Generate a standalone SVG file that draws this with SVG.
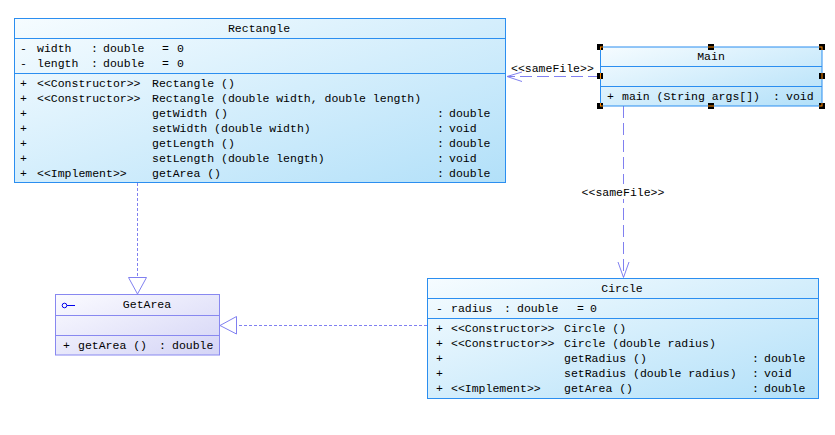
<svg xmlns="http://www.w3.org/2000/svg" width="835" height="435" viewBox="0 0 835 435">
<defs>
<linearGradient id="blueFill" x1="0" y1="0" x2="1" y2="1">
<stop offset="0" stop-color="#f6fcff"/>
<stop offset="1" stop-color="#b2e0f9"/>
</linearGradient>
<linearGradient id="lavFill" x1="0" y1="0" x2="1" y2="1">
<stop offset="0" stop-color="#fbfbff"/>
<stop offset="1" stop-color="#d4d4f6"/>
</linearGradient>
<clipPath id="handleClip">
<rect x="597" y="44" width="6" height="6"/>
<rect x="708" y="44" width="6" height="6"/>
<rect x="819" y="44" width="6" height="6"/>
<rect x="597" y="73" width="6" height="6"/>
<rect x="819" y="73" width="6" height="6"/>
<rect x="597" y="103" width="6" height="6"/>
<rect x="708" y="103" width="6" height="6"/>
<rect x="819" y="103" width="6" height="6"/>
</clipPath>
</defs>
<style>
text { font-family: "Liberation Mono", "DejaVu Sans Mono", monospace; font-size: 11.5px; fill: #000; }
.ctr { text-anchor: middle; }
.box { fill: url(#blueFill); stroke: #2b8ef0; stroke-width: 1; }
.sep { stroke: #2b8ef0; stroke-width: 1; }
.ibox { fill: url(#lavFill); stroke: #8888f0; stroke-width: 1; }
.isep { stroke: #8888f0; stroke-width: 1; }
.dep { fill: none; stroke: #8080f0; stroke-width: 1; stroke-dasharray: 12 5; }
.real { fill: none; stroke: #8080f0; stroke-width: 1; stroke-dasharray: 3 2; }
.tri { fill: #fff; stroke: #8080f0; stroke-width: 1; }
.open { fill: none; stroke: #8080f0; stroke-width: 1; }
.handle { fill: #000; }
</style>
<rect width="835" height="435" fill="#fff"/>

<g id="connectors">
<line class="real" x1="137.5" y1="183" x2="137.5" y2="277"/>
<path class="tri" d="M128.5,277.5 L146.5,277.5 L137.5,294 Z"/>
<line class="real" x1="427" y1="325.5" x2="236" y2="325.5"/>
<path class="tri" d="M236.5,316.5 L236.5,334 L220,325.5 Z"/>
<line class="dep" x1="600" y1="76.5" x2="507" y2="76.5"/>
<path class="open" d="M522,72 L507,76.5 L522,81.5"/>
<text x="511" y="72">&lt;&lt;sameFile&gt;&gt;</text>
<line class="dep" x1="623.5" y1="106" x2="623.5" y2="277"/>
<path class="open" d="M618,262 L623.5,277.5 L629,262"/>
<rect x="580" y="184" width="87" height="15" fill="#fff"/>
<text class="ctr" x="623" y="196">&lt;&lt;sameFile&gt;&gt;</text>
</g>

<g id="Rectangle">
<rect class="box" x="14.5" y="18.5" width="491" height="164"/>
<line class="sep" x1="14.5" y1="38.5" x2="505.5" y2="38.5"/>
<line class="sep" x1="14.5" y1="73.5" x2="505.5" y2="73.5"/>
<text class="ctr" x="259" y="31.5">Rectangle</text>
<text y="51.5"><tspan x="20">-</tspan><tspan x="37">width</tspan><tspan x="91">:</tspan><tspan x="103">double</tspan><tspan x="162">=</tspan><tspan x="177">0</tspan></text>
<text y="66.5"><tspan x="20">-</tspan><tspan x="37">length</tspan><tspan x="91">:</tspan><tspan x="103">double</tspan><tspan x="162">=</tspan><tspan x="177">0</tspan></text>
<text y="86.5"><tspan x="20">+</tspan><tspan x="37">&lt;&lt;Constructor&gt;&gt;</tspan><tspan x="152">Rectangle ()</tspan></text>
<text y="101.5"><tspan x="20">+</tspan><tspan x="37">&lt;&lt;Constructor&gt;&gt;</tspan><tspan x="152">Rectangle (double width, double length)</tspan></text>
<text y="116.5"><tspan x="20">+</tspan><tspan x="152">getWidth ()</tspan><tspan x="437">:</tspan><tspan x="449">double</tspan></text>
<text y="131.5"><tspan x="20">+</tspan><tspan x="152">setWidth (double width)</tspan><tspan x="437">:</tspan><tspan x="449">void</tspan></text>
<text y="146.5"><tspan x="20">+</tspan><tspan x="152">getLength ()</tspan><tspan x="437">:</tspan><tspan x="449">double</tspan></text>
<text y="161.5"><tspan x="20">+</tspan><tspan x="152">setLength (double length)</tspan><tspan x="437">:</tspan><tspan x="449">void</tspan></text>
<text y="176.5"><tspan x="20">+</tspan><tspan x="37">&lt;&lt;Implement&gt;&gt;</tspan><tspan x="152">getArea ()</tspan><tspan x="437">:</tspan><tspan x="449">double</tspan></text>
</g>

<g id="Main">
<rect class="box" x="600.5" y="47" width="221.5" height="59"/>
<line class="sep" x1="600.5" y1="66.5" x2="822" y2="66.5"/>
<line class="sep" x1="600.5" y1="86.5" x2="822" y2="86.5"/>
<text class="ctr" x="711" y="60">Main</text>
<text y="100"><tspan x="607">+</tspan><tspan x="622">main (String args[])</tspan><tspan x="773">:</tspan><tspan x="786">void</tspan></text>
<rect class="handle" x="597" y="44" width="6" height="6"/>
<rect class="handle" x="708" y="44" width="6" height="6"/>
<rect class="handle" x="819" y="44" width="6" height="6"/>
<rect class="handle" x="597" y="73" width="6" height="6"/>
<rect class="handle" x="819" y="73" width="6" height="6"/>
<rect class="handle" x="597" y="103" width="6" height="6"/>
<rect class="handle" x="708" y="103" width="6" height="6"/>
<rect class="handle" x="819" y="103" width="6" height="6"/>
<rect x="600.5" y="47" width="221.5" height="59" fill="none" stroke="#ff8a00" stroke-width="1" clip-path="url(#handleClip)"/>
</g>

<g id="Circle">
<rect class="box" x="427.5" y="278.5" width="391" height="120"/>
<line class="sep" x1="427.5" y1="298.5" x2="818.5" y2="298.5"/>
<line class="sep" x1="427.5" y1="318.5" x2="818.5" y2="318.5"/>
<text class="ctr" x="622" y="291.5">Circle</text>
<text y="311.5"><tspan x="436">-</tspan><tspan x="451">radius</tspan><tspan x="504">:</tspan><tspan x="517">double</tspan><tspan x="577">=</tspan><tspan x="590">0</tspan></text>
<text y="331.5"><tspan x="436">+</tspan><tspan x="451">&lt;&lt;Constructor&gt;&gt;</tspan><tspan x="564">Circle ()</tspan></text>
<text y="346.5"><tspan x="436">+</tspan><tspan x="451">&lt;&lt;Constructor&gt;&gt;</tspan><tspan x="564">Circle (double radius)</tspan></text>
<text y="361.5"><tspan x="436">+</tspan><tspan x="564">getRadius ()</tspan><tspan x="752">:</tspan><tspan x="764">double</tspan></text>
<text y="376.5"><tspan x="436">+</tspan><tspan x="564">setRadius (double radius)</tspan><tspan x="752">:</tspan><tspan x="764">void</tspan></text>
<text y="391.5"><tspan x="436">+</tspan><tspan x="451">&lt;&lt;Implement&gt;&gt;</tspan><tspan x="564">getArea ()</tspan><tspan x="752">:</tspan><tspan x="764">double</tspan></text>
</g>

<g id="GetArea">
<rect class="ibox" x="55.5" y="294.5" width="164" height="60.5"/>
<line class="isep" x1="55.5" y1="315.5" x2="219.5" y2="315.5"/>
<line class="isep" x1="55.5" y1="335.5" x2="219.5" y2="335.5"/>
<circle cx="64.5" cy="305.5" r="2.3" fill="none" stroke="#0000ee" stroke-width="1"/>
<line x1="67" y1="305.5" x2="75" y2="305.5" stroke="#0000ee" stroke-width="1"/>
<text class="ctr" x="147" y="307.5">GetArea</text>
<text y="349"><tspan x="63">+</tspan><tspan x="78">getArea ()</tspan><tspan x="159">:</tspan><tspan x="172">double</tspan></text>
</g>
</svg>
